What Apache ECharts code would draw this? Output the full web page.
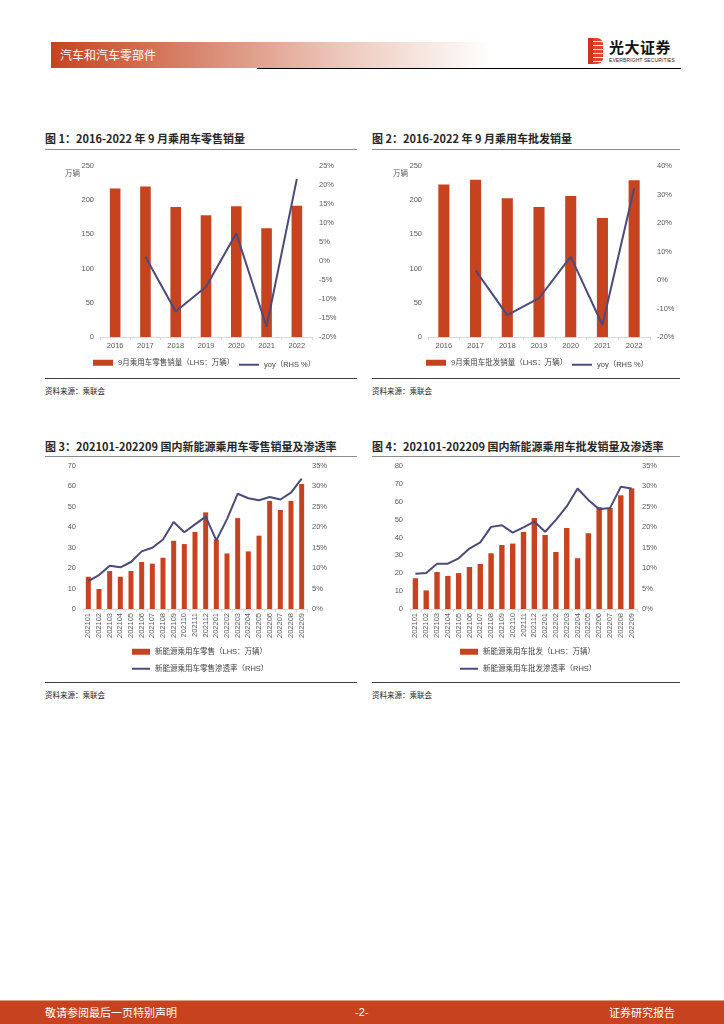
<!DOCTYPE html>
<html>
<head>
<meta charset="utf-8">
<script src="https://cdn.jsdelivr.net/npm/echarts@6/dist/echarts.min.js"></script>
<style>
  html, body { margin:0; padding:0; background:#fff; }
  body { width:724px; height:1024px; position:relative; overflow:hidden;
         font-family: "Liberation Sans", "Noto Sans CJK SC", sans-serif; }
  .abs { position:absolute; }
  .title { position:absolute; font-family:"Noto Sans CJK SC", sans-serif; font-weight:bold; font-size:11px; color:#262626; white-space:nowrap; line-height:14px; }
  .src { position:absolute; font-family:"Noto Sans CJK SC", sans-serif; font-size:7.5px; color:#262626; white-space:nowrap; line-height:10px; }
  .tline { position:absolute; height:1px; background:#8c8c8c; }
  .bline { position:absolute; height:1px; background:#404040; }
  .chart { position:absolute; }
</style>
</head>
<body>
<!-- header -->
<div class="abs" style="left:51px;top:42px;width:440px;height:26px;background:linear-gradient(to right,#C7431F 0%,#d98a72 35%,#ecc6b9 65%,#ffffff 100%);"></div>
<div class="abs" style="left:60px;top:46px;font-family:'Noto Sans CJK SC',sans-serif;font-size:12px;line-height:17px;color:#fff;">汽车和汽车零部件</div>
<div class="abs" style="left:257px;top:68px;width:424px;height:1px;background:#000;"></div>
<div class="abs" style="left:588px;top:38px;width:15px;height:26px;background:repeating-linear-gradient(to bottom,#e8402a 0px,#e8402a 3px,#ffffff 3px,#ffffff 4px);border-radius:0 6px 6px 0;"></div>
<div class="abs" style="left:588px;top:38px;width:5px;height:26px;background:#d4301c;"></div>
<div class="abs" style="left:609px;top:38px;font-family:'Noto Sans CJK SC',sans-serif;font-weight:bold;font-size:15px;line-height:18px;color:#111;letter-spacing:0.5px;">光大证券</div>
<div class="abs" style="left:609px;top:57px;font-size:5px;line-height:6px;color:#222;letter-spacing:0.1px;">EVERBRIGHT SECURITIES</div>

<!-- chart 1 -->
<div class="title" style="left:45px;top:131px;">图 1：2016-2022 年 9 月乘用车零售销量</div>
<div class="tline" style="left:45px;top:149px;width:312px;"></div>
<div id="c1" class="chart" style="left:40px;top:150px;width:320px;height:225px;"></div>
<div class="bline" style="left:45px;top:378px;width:312px;"></div>
<div class="src" style="left:45px;top:386px;">资料来源：乘联会</div>

<!-- chart 2 -->
<div class="title" style="left:372px;top:131px;">图 2：2016-2022 年 9 月乘用车批发销量</div>
<div class="tline" style="left:372px;top:149px;width:308px;"></div>
<div id="c2" class="chart" style="left:365px;top:150px;width:320px;height:225px;"></div>
<div class="bline" style="left:372px;top:378px;width:308px;"></div>
<div class="src" style="left:372px;top:386px;">资料来源：乘联会</div>

<!-- chart 3 -->
<div class="title" style="left:45px;top:439px;">图 3：202101-202209 国内新能源乘用车零售销量及渗透率</div>
<div class="tline" style="left:45px;top:456px;width:312px;"></div>
<div id="c3" class="chart" style="left:40px;top:457px;width:320px;height:222px;"></div>
<div class="bline" style="left:45px;top:682px;width:312px;"></div>
<div class="src" style="left:45px;top:690px;">资料来源：乘联会</div>

<!-- chart 4 -->
<div class="title" style="left:372px;top:439px;">图 4：202101-202209 国内新能源乘用车批发销量及渗透率</div>
<div class="tline" style="left:372px;top:456px;width:308px;"></div>
<div id="c4" class="chart" style="left:365px;top:457px;width:320px;height:222px;"></div>
<div class="bline" style="left:372px;top:682px;width:308px;"></div>
<div class="src" style="left:372px;top:690px;">资料来源：乘联会</div>

<!-- footer -->
<div class="abs" style="left:0;top:1000px;width:724px;height:1px;background:#e39a85;"></div>
<div class="abs" style="left:0;top:1001px;width:724px;height:23px;background:#C7431F;"></div>
<div class="abs" style="left:45px;top:1004px;font-family:'Noto Sans CJK SC',sans-serif;font-size:11px;line-height:16px;color:#fff;">敬请参阅最后一页特别声明</div>
<div class="abs" style="left:355px;top:1004px;font-size:11px;line-height:16px;color:#fff;">-2-</div>
<div class="abs" style="left:609px;top:1004px;font-family:'Noto Sans CJK SC',sans-serif;font-size:11px;line-height:16px;color:#fff;">证券研究报告</div>

<script>
// ---- data ----
const years = ['2016','2017','2018','2019','2020','2021','2022'];
const retailSep = [217, 220, 190, 178, 191, 159, 192];
const retailYoy = [null, 1.1, -13.3, -6.8, 7.3, -17.3, 21.6];
const wholesaleSep = [223, 230, 203, 190, 206, 174, 229];
const wholesaleYoy = [null, 3.4, -12.3, -6.4, 8.2, -15.8, 32.2];

const months = ['202101','202102','202103','202104','202105','202106','202107','202108','202109','202110','202111','202112',
                '202201','202202','202203','202204','202205','202206','202207','202208','202209'];
const nevRetail = [15.8, 9.8, 18.6, 15.8, 18.6, 23.0, 22.2, 25.1, 33.4, 31.8, 37.7, 47.3, 34.0, 27.2, 44.5, 28.2, 35.9, 52.9, 48.5, 52.9, 61.2];
const nevRetailRate = [6.8, 8.3, 10.6, 10.2, 11.5, 14.1, 15.0, 17.0, 21.3, 18.8, 20.7, 22.6, 16.8, 22.0, 28.2, 27.1, 26.6, 27.4, 26.8, 28.5, 31.9];
const nevWholesale = [17.2, 10.4, 20.7, 18.5, 20.1, 23.5, 25.2, 31.2, 35.8, 36.6, 43.1, 50.9, 41.4, 31.9, 45.3, 28.4, 42.4, 57.0, 56.5, 63.6, 67.5];
const nevWholesaleRate = [8.6, 8.8, 11.1, 11.1, 12.4, 14.8, 16.3, 20.1, 20.5, 18.7, 20.0, 21.4, 18.9, 21.8, 25.1, 29.5, 26.7, 24.4, 24.7, 29.9, 29.5];

// ---- styles ----
const BAR = '#C7431F';
const LINE = '#4B4A7C';
const FONT = '"Liberation Sans", "Noto Sans CJK SC", sans-serif';
const LBL = { color:'#595959', fontSize:7.5, fontFamily:FONT };
const LEG_TXT = { color:'#404040', fontSize:7.5, fontFamily:FONT };

function yearChart(el, grid, cats, bars, line, barName, lineName, rMin, rMax, rInt, legPos) {
  const c = echarts.init(document.getElementById(el), null, {renderer:'canvas'});
  c.setOption({
    animation:false,
    grid: grid,
    legend: [
      {data:[{name:barName, icon:'rect'}], left:legPos[0], top:legPos[2], itemWidth:20, itemHeight:6, itemGap:0, textStyle:LEG_TXT, padding:0},
      {data:[{name:lineName, icon:'rect'}], left:legPos[1], top:legPos[2]+2, itemWidth:20, itemHeight:2, itemGap:0, textStyle:LEG_TXT, padding:0}
    ],
    graphic: [{type:'text', left:grid.left-35, top:grid.top+3, style:{text:'万辆', fill:'#595959', font:'7.5px "Noto Sans CJK SC", sans-serif'}}],
    xAxis: {type:'category', data:cats, boundaryGap:true,
      axisLine:{lineStyle:{color:'#d9d9d9'}}, axisTick:{show:true, length:3, lineStyle:{color:'#d9d9d9'}},
      axisLabel:Object.assign({margin:5}, LBL)},
    yAxis: [
      {type:'value', min:0, max:250, interval:50, splitLine:{show:false}, axisLine:{show:false}, axisTick:{show:false},
       axisLabel:Object.assign({margin:6}, LBL)},
      {type:'value', min:rMin, max:rMax, interval:rInt, splitLine:{show:false}, axisLine:{show:false}, axisTick:{show:false},
       axisLabel:Object.assign({margin:7, formatter:'{value}%'}, LBL)}
    ],
    series: [
      {name:barName, type:'bar', data:bars, barWidth:'35%', itemStyle:{color:BAR}},
      {name:lineName, type:'line', yAxisIndex:1, data:line, symbol:'none', connectNulls:false, lineStyle:{color:LINE, width:2}, itemStyle:{color:LINE}}
    ]
  });
}

function monthChart(el, grid, cats, bars, line, barName, lineName, lMax, legLeft, barW) {
  const c = echarts.init(document.getElementById(el), null, {renderer:'canvas'});
  c.setOption({
    animation:false,
    grid: grid,
    legend: [
      {data:[{name:barName, icon:'rect'}], left:legLeft, top:191, itemWidth:18, itemHeight:6, textStyle:LEG_TXT, padding:0},
      {data:[{name:lineName, icon:'rect'}], left:legLeft, top:208, itemWidth:18, itemHeight:2, textStyle:LEG_TXT, padding:0}
    ],
    xAxis: {type:'category', data:cats, boundaryGap:true,
      axisLine:{lineStyle:{color:'#d9d9d9'}}, axisTick:{show:true, length:3, lineStyle:{color:'#d9d9d9'}},
      axisLabel:Object.assign({margin:4, rotate:90, interval:0}, LBL)},
    yAxis: [
      {type:'value', min:0, max:lMax, interval:10, splitLine:{show:false}, axisLine:{show:false}, axisTick:{show:false},
       axisLabel:Object.assign({margin:7}, LBL)},
      {type:'value', min:0, max:35, interval:5, splitLine:{show:false}, axisLine:{show:false}, axisTick:{show:false},
       axisLabel:Object.assign({margin:5, formatter:'{value}%'}, LBL)}
    ],
    series: [
      {name:barName, type:'bar', data:bars, barWidth:barW, itemStyle:{color:BAR}},
      {name:lineName, type:'line', yAxisIndex:1, data:line, symbol:'none', lineStyle:{color:LINE, width:2}, itemStyle:{color:LINE}}
    ]
  });
}

yearChart('c1', {left:60, top:16, width:212, height:171}, years, retailSep, retailYoy,
  '9月乘用车零售销量（LHS：万辆）', 'yoy（RHS %）', -20, 25, 5, [53, 199, 209]);
yearChart('c2', {left:63, top:16, width:222, height:171}, years, wholesaleSep, wholesaleYoy,
  '9月乘用车批发销量（LHS：万辆）', 'yoy（RHS %）', -20, 40, 10, [61, 207, 209]);
monthChart('c3', {left:43, top:9, width:224, height:143}, months, nevRetail, nevRetailRate,
  '新能源乘用车零售（LHS：万辆）', '新能源乘用车零售渗透率（RHS）', 70, 92, '47%');
monthChart('c4', {left:45, top:9, width:227, height:143}, months, nevWholesale, nevWholesaleRate,
  '新能源乘用车批发（LHS：万辆）', '新能源乘用车批发渗透率（RHS）', 80, 95, '50%');
</script>
</body>
</html>
